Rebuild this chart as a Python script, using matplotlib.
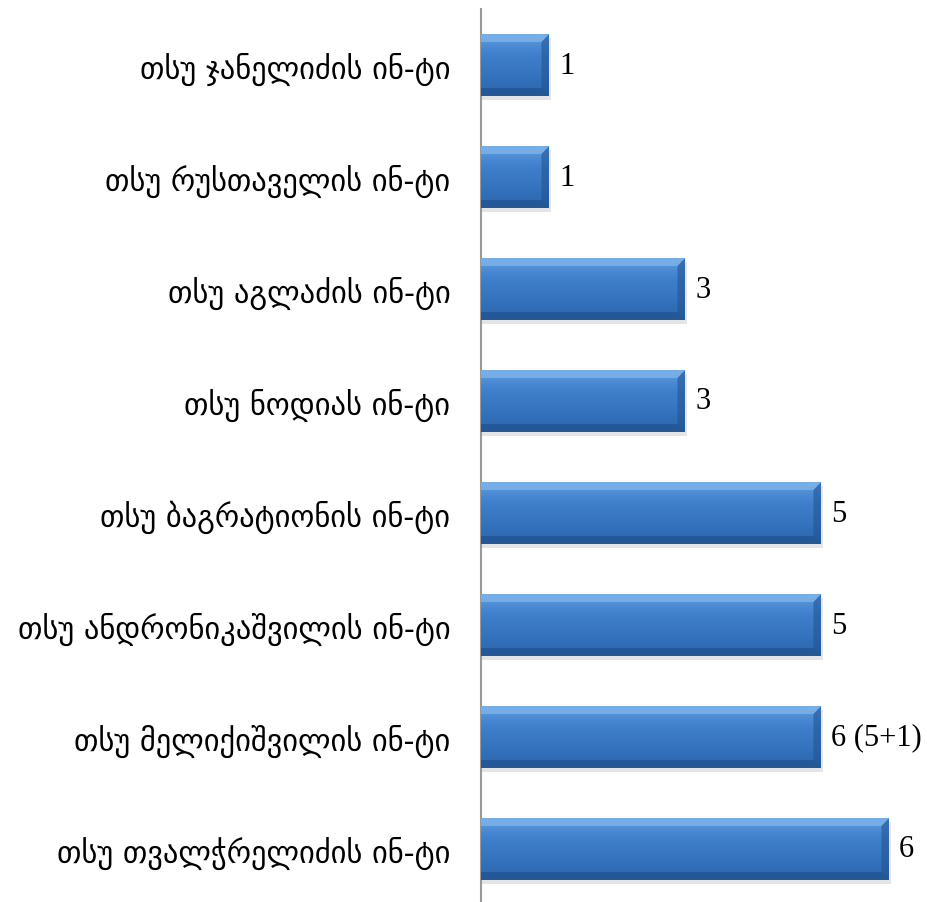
import matplotlib.pyplot as plt
import numpy as np
from matplotlib.patches import Polygon
from matplotlib.colors import LinearSegmentedColormap

institutes = ["თსუ ჯანელიძის ინ-ტი", "თსუ რუსთაველის ინ-ტი", "თსუ აგლაძის ინ-ტი",
              "თსუ ნოდიას ინ-ტი", "თსუ ბაგრატიონის ინ-ტი", "თსუ ანდრონიკაშვილის ინ-ტი",
              "თსუ მელიქიშვილის ინ-ტი", "თსუ თვალჭრელიძის ინ-ტი"]
counts = [1, 1, 3, 3, 5, 5, 5, 6]
value_labels = ["1", "1", "3", "3", "5", "5", "6 (5+1)", "6"]

plt.rcParams['font.family'] = ['Liberation Serif', 'DejaVu Sans']

fig = plt.figure(figsize=(9.27, 9.03), dpi=100)
ax = fig.add_axes([481/927, -3/903, 446/927, 896/903])

n = len(institutes)
ypos = np.arange(n)[::-1]
h = 0.55

# vertical gradient for the bars
grad = np.linspace(0, 1, 64).reshape(-1, 1)
cmap = LinearSegmentedColormap.from_list("bar", ["#5a9be0", "#3f7fcb", "#3573be", "#2d66ad"])

bx = 0.11   # bevel width in x data units
by = 0.07   # bevel height in y data units
for y, v in zip(ypos, counts):
    # shadow
    ax.barh(y - 0.035, v + 0.03, height=h, left=0, color="#000000", alpha=0.10, zorder=1)
    bar = ax.barh(y, v, height=h, left=0, color="#3a78c3", edgecolor="none", zorder=2)[0]
    im = ax.imshow(grad, extent=(0, v, y - h/2, y + h/2), cmap=cmap, aspect="auto",
                   origin="upper", zorder=3)
    im.set_clip_path(bar)
    top, bot = y + h/2, y - h/2
    # top bevel (light)
    ax.add_patch(Polygon([(0, top), (v, top), (v - bx, top - by), (0, top - by)],
                         closed=True, facecolor="#8cc0f0", edgecolor="none", alpha=0.6, zorder=4))
    # right bevel (dark)
    ax.add_patch(Polygon([(v, top), (v, bot), (v - bx, bot + by), (v - bx, top - by)],
                         closed=True, facecolor="#1f528f", edgecolor="none", alpha=0.55, zorder=4))
    # bottom bevel (darker)
    ax.add_patch(Polygon([(0, bot), (v, bot), (v - bx, bot + by), (0, bot + by)],
                         closed=True, facecolor="#1b4a82", edgecolor="none", alpha=0.55, zorder=4))

for y, v, lab in zip(ypos, counts, value_labels):
    ax.text(v + 0.15, y, lab, va="center", ha="left", fontsize=22, color="black")

ax.set_xlim(0, 6.56)
ax.set_ylim(-0.5, n - 0.5)
ax.set_yticks(ypos)
ax.set_yticklabels(institutes, fontsize=22, family=['DejaVu Sans'])
ax.tick_params(axis="y", length=0, pad=22)
ax.set_xticks([])
for s in ["top", "right", "bottom"]:
    ax.spines[s].set_visible(False)
ax.spines["left"].set_color("#9a9a9a")
ax.spines["left"].set_linewidth(1.5)

fig.savefig("out.png", dpi=100)
